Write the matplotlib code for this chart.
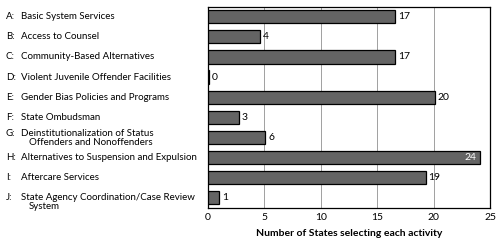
import matplotlib
matplotlib.use("Agg")
import matplotlib.pyplot as plt
from matplotlib.transforms import blended_transform_factory, offset_copy

# activity labels (letter, first line, optional second line)
letters = ["A:", "B:", "C:", "D:", "E:", "F:", "G:", "H:", "I:", "J:"]
names = [
    "Basic System Services",
    "Access to Counsel",
    "Community-Based Alternatives",
    "Violent Juvenile Offender Facilities",
    "Gender Bias Policies and Programs",
    "State Ombudsman",
    "Deinstitutionalization of Status",
    "Alternatives to Suspension and Expulsion",
    "Aftercare Services",
    "State Agency Coordination/Case Review",
]
second_lines = ["", "", "", "", "", "", "Offenders and Nonoffenders", "", "", "System"]

# bar lengths as drawn, and the numbers printed beside them
bar_lengths = [16.6, 4.6, 16.6, 0.15, 20.1, 2.75, 5.1, 24.1, 19.3, 1.0]
printed = [17, 4, 17, 0, 20, 3, 6, 24, 19, 1]

font = "Lato"
plt.rcParams["font.family"] = [font, "DejaVu Sans"]

fig = plt.figure(figsize=(5.0, 2.42), dpi=100)
ax = fig.add_axes([207.7 / 500, 1 - 207.7 / 242, (490 - 207.7) / 500, 201 / 242])

y = list(range(len(names)))
ax.barh(y, bar_lengths, height=0.66, color="#646464", edgecolor="black",
        linewidth=0.9, zorder=3)
ax.set_ylim(len(names) - 0.5, -0.5)
ax.set_xlim(0, 25)
ax.set_xticks([0, 5, 10, 15, 20, 25])
ax.tick_params(axis="x", length=0, labelsize=7.5, pad=4)
ax.set_yticks([])
ax.grid(axis="x", color="#a0a0a0", linewidth=0.7, zorder=0)
for s in ax.spines.values():
    s.set_linewidth(0.9)
    s.set_color("black")
ax.set_xlabel("Number of States selecting each activity", fontsize=7.5,
              fontweight="bold", labelpad=5)

# value labels
for yi, length, val in zip(y, bar_lengths, printed):
    if val == 24:
        ax.text(length - 0.3, yi, str(val), color="white", fontsize=7.5,
                ha="right", va="center", zorder=4)
    else:
        ax.text(length + 0.25, yi, str(val), color="black", fontsize=7.5,
                ha="left", va="center", zorder=4)

# category labels on the left
tr = blended_transform_factory(fig.transFigure, ax.transData)
for yi, let, name, extra in zip(y, letters, names, second_lines):
    lift = 4 if let == "G:" else 0
    t1 = offset_copy(tr, fig=fig, y=lift, units="dots")
    fig.text(6 / 500, yi, let, transform=t1, fontsize=7, ha="left", va="center")
    fig.text(21 / 500, yi, name, transform=t1, fontsize=7, ha="left", va="center")
    if extra:
        t2 = offset_copy(tr, fig=fig, y=lift - 9, units="dots")
        fig.text(29 / 500, yi, extra, transform=t2, fontsize=7,
                 ha="left", va="center")

fig.savefig("out.png", dpi=100)
